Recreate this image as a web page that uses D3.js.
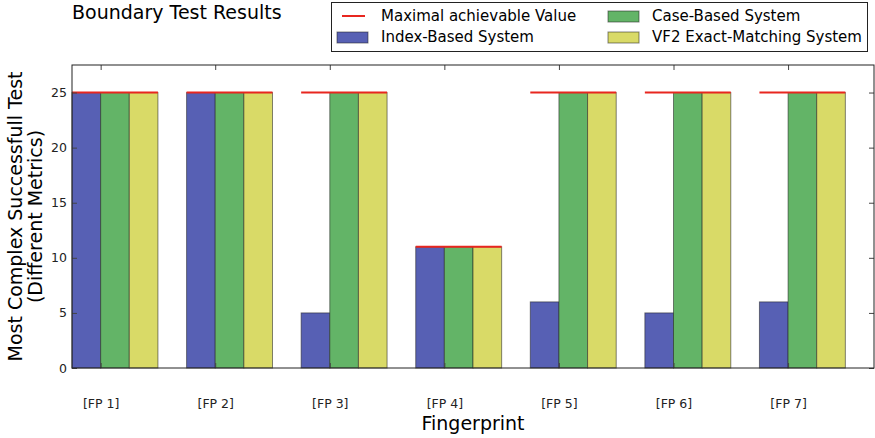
<!DOCTYPE html>
<html>
<head>
<meta charset="utf-8">
<script src="https://cdn.jsdelivr.net/npm/d3@7"></script>
<style>
  body { margin: 0; background: #fff; }
  svg text { font-family: "DejaVu Sans", sans-serif; }
</style>
</head>
<body>
<div id="chart"></div>
<script>
var fingerprints = ["[FP 1]", "[FP 2]", "[FP 3]", "[FP 4]", "[FP 5]", "[FP 6]", "[FP 7]"];
var indexBased = [25, 25, 5, 11, 6, 5, 6];
var caseBased = [25, 25, 25, 11, 25, 25, 25];
var vf2Exact = [25, 25, 25, 11, 25, 25, 25];
var maxValue = [25, 25, 25, 11, 25, 25, 25];
var yTicks = [0, 5, 10, 15, 20, 25];

var seriesNames = ["Index-Based System", "Case-Based System", "VF2 Exact-Matching System"];
var seriesColors = ["#5760b4", "#63b467", "#d9da67"];

var width = 875, height = 438;
var barW = 0.25;

var svg = d3.select("#chart")
    .append("svg")
    .attr("width", width)
    .attr("height", height);

var x = d3.scaleLinear().domain([0, 7]).range([72, 874]);
var y = d3.scaleLinear().domain([0, 27.5]).range([368, 65]);

// bars
var series = [indexBased, caseBased, vf2Exact];
series.forEach(function(vals, k) {
    svg.append("g").selectAll("rect")
        .data(vals)
      .enter().append("rect")
        .attr("x", function(d, i) { return x(i + k * barW); })
        .attr("y", function(d) { return y(d); })
        .attr("width", x(barW) - x(0))
        .attr("height", function(d) { return y(0) - y(d); })
        .attr("fill", seriesColors[k])
        .attr("stroke", "#222")
        .attr("stroke-opacity", 0.55)
        .attr("stroke-width", 1);
});

// max lines
svg.append("g").selectAll("line")
    .data(maxValue)
  .enter().append("line")
    .attr("x1", function(d, i) { return x(i); })
    .attr("x2", function(d, i) { return x(i + 3 * barW); })
    .attr("y1", function(d) { return y(d); })
    .attr("y2", function(d) { return y(d); })
    .attr("stroke", "#e8261f")
    .attr("stroke-width", 2);

// axes frame
var tickPos = fingerprints.map(function(d, i) { return i + barW; });

svg.append("g")
    .attr("transform", "translate(0," + y(0) + ")")
    .call(d3.axisBottom(x).tickValues(tickPos).tickSizeInner(-5).tickSizeOuter(0)
        .tickFormat(function(d, i) { return fingerprints[i]; }))
    .call(function(g) {
        g.select(".domain").remove();
        g.selectAll("text").attr("y", 31).attr("font-size", 12.5).attr("fill", "#222");
        g.selectAll("line").attr("stroke", "#444");
    });

svg.append("g")
    .attr("transform", "translate(0," + y(27.5) + ")")
    .call(d3.axisTop(x).tickValues(tickPos).tickSizeInner(-5).tickSizeOuter(0).tickFormat(""))
    .call(function(g) {
        g.select(".domain").remove();
        g.selectAll("line").attr("stroke", "#444");
    });

svg.append("g")
    .attr("transform", "translate(" + x(0) + ",0)")
    .call(d3.axisLeft(y).tickValues(yTicks).tickSizeInner(-5).tickSizeOuter(0).tickPadding(5))
    .call(function(g) {
        g.select(".domain").remove();
        g.selectAll("text").attr("font-size", 12.5).attr("fill", "#222");
        g.selectAll("line").attr("stroke", "#444");
    });

svg.append("g")
    .attr("transform", "translate(" + x(7) + ",0)")
    .call(d3.axisRight(y).tickValues(yTicks).tickSizeInner(-5).tickSizeOuter(0).tickFormat(""))
    .call(function(g) {
        g.select(".domain").remove();
        g.selectAll("line").attr("stroke", "#444");
    });

svg.append("rect")
    .attr("x", x(0))
    .attr("y", y(27.5))
    .attr("width", x(7) - x(0))
    .attr("height", y(0) - y(27.5))
    .attr("fill", "none")
    .attr("stroke", "#222")
    .attr("stroke-width", 1);

// title and labels
svg.append("text")
    .attr("x", 72)
    .attr("y", 19)
    .attr("font-size", 19)
    .text("Boundary Test Results");

svg.append("text")
    .attr("x", (x(0) + x(7)) / 2)
    .attr("y", 430)
    .attr("text-anchor", "middle")
    .attr("font-size", 19)
    .text("Fingerprint");

var ylab = svg.append("text")
    .attr("transform", "translate(22," + (y(0) + y(27.5)) / 2 + ") rotate(-90)")
    .attr("text-anchor", "middle")
    .attr("font-size", 19);
ylab.append("tspan").attr("x", 0).attr("dy", 0).text("Most Complex Successfull Test");
ylab.append("tspan").attr("x", 0).attr("dy", 20).text("(Different Metrics)");

// legend
var legend = svg.append("g");
legend.append("rect")
    .attr("x", 331.5).attr("y", 2.5)
    .attr("width", 536).attr("height", 49)
    .attr("fill", "#fff")
    .attr("stroke", "#222");

var items = [
    { label: "Maximal achievable Value", type: "line", color: "#e8261f", col: 0, row: 0 },
    { label: seriesNames[0], type: "rect", color: seriesColors[0], col: 0, row: 1 },
    { label: seriesNames[1], type: "rect", color: seriesColors[1], col: 1, row: 0 },
    { label: seriesNames[2], type: "rect", color: seriesColors[2], col: 1, row: 1 }
];
var colX = [337, 608];
items.forEach(function(it) {
    var lx = colX[it.col], ly = 16 + it.row * 21;
    if (it.type === "line") {
        legend.append("line")
            .attr("x1", lx + 5).attr("x2", lx + 28)
            .attr("y1", ly).attr("y2", ly)
            .attr("stroke", it.color).attr("stroke-width", 2);
    } else {
        legend.append("rect")
            .attr("x", lx).attr("y", ly - 5)
            .attr("width", 31).attr("height", 11)
            .attr("fill", it.color)
            .attr("stroke", "#222").attr("stroke-opacity", 0.55);
    }
    legend.append("text")
        .attr("x", lx + 44).attr("y", ly + 5)
        .attr("font-size", 15)
        .text(it.label);
});
</script>
</body>
</html>
